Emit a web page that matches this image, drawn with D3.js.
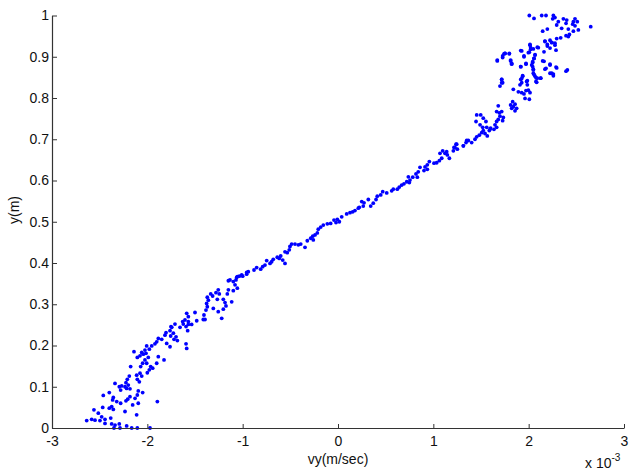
<!DOCTYPE html>
<html>
<head>
<meta charset="utf-8">
<script src="https://cdn.jsdelivr.net/npm/d3@7"></script>
<style>
  body { margin: 0; background: #fff; }
  text { font-family: "Liberation Sans", Arial, Helvetica, sans-serif; }
</style>
</head>
<body>
<div id="chart"></div>
<script>
// x tick values are in units of 1e-3 m/sec (see the "x 10^-3" label)
const xTicks = [-3, -2, -1, 0, 1, 2, 3];
const yTicks = [0, 0.1, 0.2, 0.3, 0.4, 0.5, 0.6, 0.7, 0.8, 0.9, 1];
const yTickLabels = ["0", "0.1", "0.2", "0.3", "0.4", "0.5", "0.6", "0.7", "0.8", "0.9", "1"];

// [vy (x 1e-3 m/sec), y (m)]
const lowerBand = [
  [-1.570,0.258],[-1.623,0.252],[-1.594,0.246],[-1.577,0.236],[-1.657,0.244],[-1.710,0.252],
  [-1.744,0.244],[-1.762,0.236],[-1.804,0.231],[-1.815,0.225],[-1.755,0.223],[-1.727,0.230],
  [-1.699,0.221],[-1.685,0.212],[-1.720,0.215],[-1.849,0.215],[-1.885,0.217],[-1.902,0.209],
  [-1.920,0.204],[-1.954,0.199],[-1.979,0.191],[-2.007,0.199],[-2.025,0.189],[-2.042,0.179],
  [-2.059,0.183],[-2.077,0.175],[-2.105,0.171],[-2.140,0.185],[-2.014,0.181],[-1.990,0.171],
  [-2.025,0.165],[-2.049,0.157],[-2.070,0.149],[-2.007,0.157],[-1.965,0.149],[-1.979,0.141],
  [-2.000,0.134],[-1.944,0.145],[-1.902,0.157],[-1.885,0.173],[-1.825,0.165],[-1.797,0.205],
  [-1.762,0.197],[-1.594,0.204],[-1.587,0.193],[-2.175,0.149],[-2.077,0.133],[-2.059,0.126],
  [-2.105,0.118],[-2.084,0.112],[-2.112,0.128],[-2.189,0.126],[-2.210,0.118],[-2.224,0.110],
  [-2.200,0.104],[-2.217,0.096],[-2.182,0.095],[-2.234,0.100],[-2.269,0.102],[-2.294,0.100],
  [-2.280,0.092],[-2.339,0.108],[-2.095,0.090],[-2.049,0.086],[-2.105,0.080],[-2.129,0.072],
  [-2.182,0.076],[-2.206,0.070],[-2.224,0.066],[-2.280,0.060],[-2.321,0.064],[-2.357,0.074],
  [-2.364,0.068],[-2.399,0.086],[-2.462,0.079],[-2.374,0.052],[-2.357,0.045],[-2.399,0.048],
  [-2.468,0.050],[-2.560,0.044],[-2.514,0.036],[-2.479,0.027],[-2.444,0.021],[-2.497,0.018],
  [-2.384,0.024],[-2.636,0.018],[-2.584,0.021],[-2.549,0.019],[-2.444,0.011],[-2.374,0.010],
  [-2.339,0.007],[-2.294,0.010],[-2.350,0.000],[-2.287,0.000],[-2.217,0.005],[-2.164,0.000],
  [-2.105,0.000],[-2.234,0.040],[-2.154,0.056],[-2.095,0.060],[-2.112,0.032],[-1.972,0.000],
  [-1.895,0.064]
];
const lowerMidBand = [
  [-0.958,0.377],[-1.010,0.371],[-1.056,0.367],[-1.070,0.359],[-1.098,0.355],[-1.133,0.359],
  [-1.150,0.357],[-1.080,0.347],[-1.056,0.339],[-1.098,0.333],[-1.150,0.335],[-1.161,0.325],
  [-1.203,0.312],[-1.185,0.304],[-1.115,0.306],[-1.175,0.296],[-1.203,0.288],[-1.256,0.335],
  [-1.280,0.328],[-1.245,0.325],[-1.266,0.312],[-1.335,0.325],[-1.315,0.320],[-1.371,0.317],
  [-1.360,0.310],[-1.378,0.302],[-1.371,0.294],[-1.385,0.286],[-1.406,0.274],[-1.413,0.263],
  [-1.395,0.263],[-1.308,0.290],[-1.256,0.282],[-1.220,0.266],[-1.500,0.280],[-1.482,0.260],
  [-1.570,0.270],[-1.587,0.278],[-1.605,0.262],[-1.629,0.258],[-1.535,0.251],[-1.570,0.251],
  [-1.752,0.246]
];
const midBand = [
  [0.213,0.533],[0.178,0.527],[0.154,0.524],[0.126,0.522],[0.091,0.519],[0.039,0.512],
  [-0.007,0.506],[-0.021,0.498],[0.014,0.500],[-0.042,0.504],[-0.077,0.496],[-0.112,0.495],
  [-0.154,0.492],[-0.181,0.487],[-0.207,0.482],[-0.217,0.473],[-0.241,0.468],[-0.265,0.465],
  [-0.259,0.456],[-0.286,0.460],[-0.322,0.454],[-0.346,0.438],[-0.391,0.446],[-0.416,0.444],
  [-0.451,0.446],[-0.486,0.446],[-0.504,0.440],[-0.511,0.432],[-0.532,0.425],[-0.556,0.427],
  [-0.601,0.417],[-0.616,0.411],[-0.580,0.407],[-0.556,0.399],[-0.637,0.414],[-0.679,0.409],
  [-0.696,0.403],[-0.713,0.399],[-0.748,0.406],[-0.766,0.395],[-0.790,0.391],[-0.811,0.385],
  [-0.853,0.389],[-0.881,0.383],[-0.941,0.379],[-0.958,0.373],[-1.000,0.368],[-1.035,0.368],
  [-1.063,0.365]
];
const upperMidBand = [
  [1.367,0.697],[1.343,0.692],[1.315,0.684],[1.238,0.688],[1.227,0.680],[1.252,0.676],
  [1.210,0.672],[1.140,0.670],[1.122,0.666],[1.147,0.662],[1.098,0.672],[1.070,0.666],
  [1.168,0.654],[1.088,0.654],[1.063,0.648],[1.035,0.643],[1.007,0.642],[0.958,0.646],
  [0.937,0.638],[0.913,0.633],[0.937,0.627],[0.902,0.624],[0.860,0.632],[0.842,0.621],
  [0.818,0.616],[0.832,0.608],[0.784,0.608],[0.755,0.601],[0.738,0.609],[0.721,0.597],
  [0.748,0.595],[0.692,0.592],[0.668,0.589],[0.643,0.584],[0.622,0.579],[0.580,0.579],
  [0.563,0.575],[0.511,0.570],[0.469,0.573],[0.448,0.565],[0.412,0.562],[0.399,0.554],
  [0.370,0.545],[0.343,0.538],[0.318,0.554],[0.273,0.546],[0.249,0.549],[0.265,0.538],
  [0.223,0.535]
];
const upperBand = [
  [2.014,0.928],[2.021,0.918],[2.091,0.923],[2.171,0.937],[2.196,0.926],[2.242,0.934],
  [2.224,0.921],[2.276,0.928],[2.287,0.916],[1.917,0.915],[1.997,0.910],[1.951,0.902],
  [2.067,0.904],[2.056,0.896],[2.042,0.886],[2.032,0.880],[1.972,0.884],[1.917,0.876],
  [2.049,0.870],[2.049,0.860],[2.067,0.853],[2.091,0.848],[2.077,0.840],[2.126,0.848],
  [2.161,0.889],[2.224,0.880],[2.182,0.872],[2.224,0.860],[2.259,0.858],[2.287,0.875],
  [1.937,0.853],[1.917,0.845],[1.927,0.837],[1.909,0.832],[1.979,0.840],[1.986,0.832],
  [1.997,0.819],[2.014,0.813],[1.972,0.818],[1.951,0.810],[1.927,0.813],[1.892,0.815],
  [1.962,0.799],[2.007,0.797],[1.839,0.821],[1.717,0.845],[1.727,0.837],[1.699,0.829],
  [1.671,0.892],[1.727,0.902],[1.741,0.907],[1.752,0.908],[1.797,0.907],[1.811,0.892],
  [1.822,0.884],[1.832,0.791],[1.857,0.785],[1.839,0.779],[1.822,0.775],[1.857,0.769],
  [1.874,0.775],[1.811,0.783],[1.681,0.781],[1.664,0.767],[1.692,0.764],[1.717,0.767],
  [1.699,0.756],[1.681,0.748],[1.734,0.753],[1.727,0.745],[1.664,0.743],[1.647,0.735],
  [1.664,0.729],[1.636,0.724],[1.594,0.724],[1.560,0.729],[1.552,0.743],[1.524,0.751],
  [1.497,0.759],[1.455,0.759],[1.448,0.743],[1.490,0.735],[1.518,0.729],[1.524,0.721],
  [1.507,0.716],[1.482,0.710],[1.455,0.706],[1.437,0.700],[1.402,0.692],[1.350,0.697],
  [1.315,0.684],[1.245,0.688],[1.217,0.680],[1.542,0.714],[1.587,0.721],[1.601,0.727],
  [1.566,0.708]
];
const topBand = [
  [2.007,1.000],[2.056,0.993],[2.137,1.000],[2.182,1.000],[2.259,1.000],[2.276,0.995],
  [2.252,0.992],[2.364,0.992],[2.399,0.989],[2.469,0.985],[2.486,0.992],[2.510,0.985],
  [2.462,0.979],[2.486,0.975],[2.651,0.973],[2.392,0.981],[2.311,0.985],[2.294,0.977],
  [2.346,0.969],[2.416,0.967],[2.469,0.962],[2.521,0.965],[2.427,0.954],[2.392,0.951],
  [2.416,0.949],[2.336,0.946],[2.294,0.944],[2.224,0.940],[2.196,0.967],[2.147,0.962],
  [2.171,0.938],[2.242,0.935],[2.196,0.930],[2.276,0.933],[2.101,0.922],[2.014,0.930],
  [2.021,0.922],[2.049,0.919],[2.161,0.912],[1.927,0.914],[2.007,0.911],[1.951,0.900],
  [1.752,0.908],[1.797,0.908],[1.727,0.898],[1.671,0.890],[1.811,0.890],[1.822,0.882],
  [2.067,0.905],[2.056,0.896],[2.042,0.888],[1.972,0.882],[1.917,0.876],[2.042,0.876],
  [2.147,0.890],[2.224,0.882],[2.171,0.870],[2.294,0.873],[2.242,0.860],[2.259,0.854],
  [2.392,0.865],[2.406,0.868],[2.049,0.868],[2.056,0.857],[2.077,0.849],[2.126,0.848],
  [1.937,0.854],[1.927,0.847],[1.986,0.842],[2.084,0.838],[1.717,0.845],[1.717,0.837]
];

const points = [].concat(lowerBand, lowerMidBand, midBand, upperMidBand, upperBand, topBand);

// plot area in page pixels
const width = 631, height = 472;
const plotLeft = 52, plotRight = 624, plotTop = 15.5, plotBottom = 428;
const fontSize = 14;

const svg = d3.select("#chart")
  .append("svg")
  .attr("width", width)
  .attr("height", height);

const x = d3.scaleLinear().domain([-3, 3]).range([plotLeft, plotRight]);
const y = d3.scaleLinear().domain([0, 1]).range([plotBottom, plotTop]);

// dots
svg.append("g")
  .selectAll("circle")
  .data(points)
  .enter()
  .append("circle")
  .attr("cx", d => x(d[0]))
  .attr("cy", d => y(d[1]))
  .attr("r", 1.9)
  .attr("fill", "#0000ff");

// x axis, ticks pointing inward
const xAxis = svg.append("g")
  .attr("transform", `translate(0,${plotBottom})`)
  .call(d3.axisBottom(x)
    .tickValues(xTicks)
    .tickFormat(d => String(d))
    .tickSizeInner(-4)
    .tickSizeOuter(0)
    .tickPadding(8));

// y axis
const yAxis = svg.append("g")
  .attr("transform", `translate(${plotLeft},0)`)
  .call(d3.axisLeft(y)
    .tickValues(yTicks)
    .tickFormat((d, i) => yTickLabels[i])
    .tickSizeInner(-5)
    .tickSizeOuter(0)
    .tickPadding(3));

[xAxis, yAxis].forEach(g => {
  g.attr("font-size", fontSize).attr("font-family", "'Liberation Sans', Arial, sans-serif");
  g.select(".domain").attr("stroke", "#333").attr("stroke-width", 1.2);
  g.selectAll(".tick line").attr("stroke", "#333");
  g.selectAll(".tick text").attr("fill", "#111");
});

// axis labels
svg.append("text")
  .attr("x", 338)
  .attr("y", 464)
  .attr("text-anchor", "middle")
  .attr("font-size", fontSize)
  .attr("fill", "#111")
  .text("vy(m/sec)");

svg.append("text")
  .attr("transform", "rotate(-90)")
  .attr("x", -210)
  .attr("y", 19)
  .attr("text-anchor", "middle")
  .attr("font-size", fontSize)
  .attr("fill", "#111")
  .text("y(m)");

// exponent label
const expo = svg.append("text")
  .attr("x", 585)
  .attr("y", 468)
  .attr("font-size", fontSize)
  .attr("fill", "#111");
expo.append("tspan").text("x 10");
expo.append("tspan")
  .attr("dy", -7)
  .attr("font-size", 10)
  .text("-3");
</script>
</body>
</html>
